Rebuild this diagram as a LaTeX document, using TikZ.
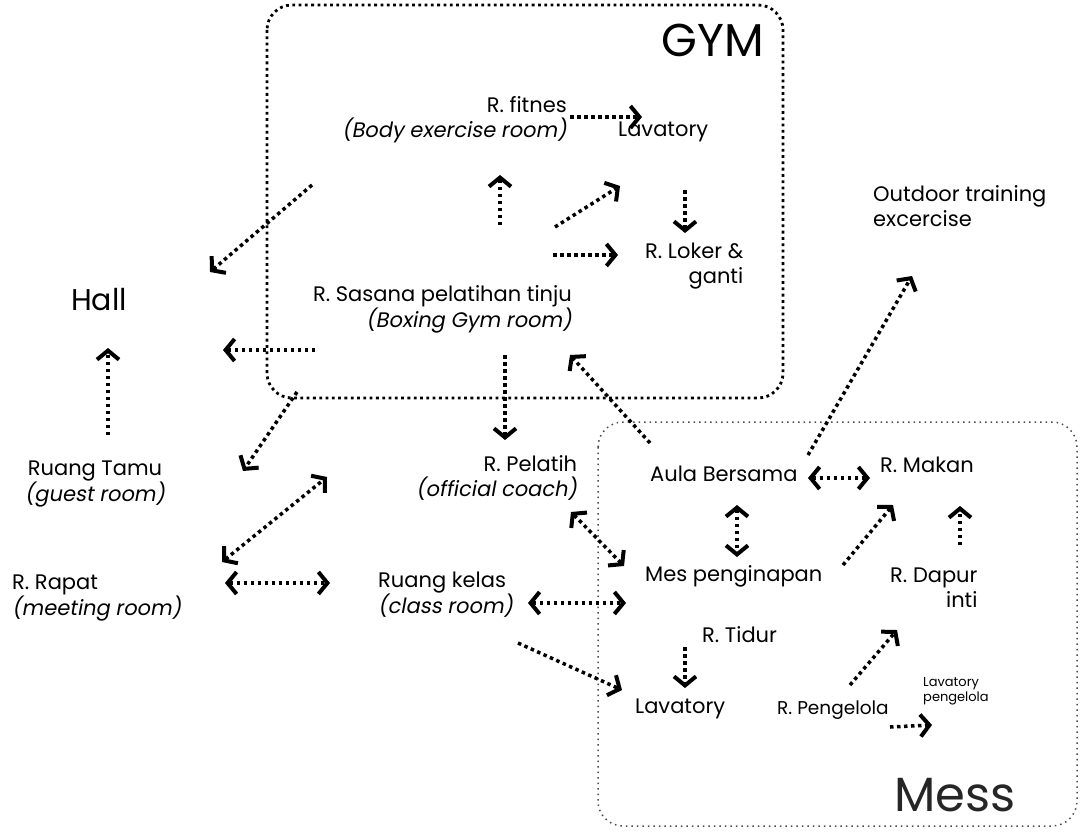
\documentclass[tikz,border=0pt]{standalone}
\usepackage{fontspec}
\setmainfont{Poppins}
\newfontfamily\slfont{Poppins}[FakeSlant=0.18]
\usetikzlibrary{arrows.meta}

\tikzset{
  room/.style={font=\fontsize{21}{25}\selectfont, inner sep=0pt},
  flow/.style={line width=3.5pt, dash pattern=on 3.5pt off 3.5pt,
    -{Straight Barb[length=9pt,width=22pt,line width=4pt]}},
  both/.style={flow, {Straight Barb[length=9pt,width=22pt,line width=4pt]}-{Straight Barb[length=9pt,width=22pt,line width=4pt]}},
  gymzone/.style={line width=2.8pt, dash pattern=on 2.8pt off 3.5pt, rounded corners=25pt},
  messzone/.style={line width=1.5pt, black!70, dash pattern=on 1.5pt off 4pt, rounded corners=25pt}
}

\begin{document}
\begin{tikzpicture}[x=1pt,y=-1pt]
  \useasboundingbox (0,0) rectangle (1083,832);

  % zones
  \draw[gymzone] (267,5) rectangle (783,398);
  \draw[messzone] (598,422) rectangle (1077,826);
  \node[font=\fontsize{46}{46}\selectfont] (gym) at (713,40) {GYM};
  \node[font=\fontsize{48}{48}\selectfont, black!85] (mess) at (955,795) {Mess};

  % rooms
  \node[room, anchor=east, align=right] (fitnes) at (567,120) {R. fitnes\\{\slfont (Body exercise room)}};
  \node[room, anchor=west] (lavgym) at (618,132) {Lavatory};
  \node[room, anchor=west, align=right] (loker) at (645,266) {R. Loker \&\\ganti};
  \node[room, anchor=west, align=left] (outdoor) at (873,206) {Outdoor training\\excercise};
  \node[font=\fontsize{30}{30}\selectfont] (hall) at (99,300) {Hall};
  \node[room, anchor=east, align=right] (sasana) at (572,309) {R. Sasana pelatihan tinju\\{\slfont (Boxing Gym room)}};
  \node[room, align=center] (tamu) at (95,484) {Ruang Tamu\\{\slfont (guest room)}};
  \node[room, anchor=west, align=right] (pelatih) at (416,478) {R. Pelatih\\{\slfont (official coach)}};
  \node[room, anchor=west, align=left] (rapat) at (12,598) {R. Rapat\\{\slfont (meeting room)}};
  \node[room, anchor=west, align=left] (kelas) at (378,595) {Ruang kelas\\{\slfont (class room)}};
  \node[room, anchor=west] (aula) at (650,474) {Aula Bersama};
  \node[room, anchor=west] (makan) at (880,465) {R. Makan};
  \node[room, anchor=west] (mes) at (645,576) {Mes penginapan};
  \node[room, anchor=west, align=right] (dapur) at (890,588) {R. Dapur\\inti};
  \node[room, anchor=west] (tidur) at (702,635) {R. Tidur};
  \node[room, anchor=west] (lavmes) at (635,709) {Lavatory};
  \node[room, anchor=west, font=\fontsize{18.5}{22}\selectfont] (pengelola) at (777,710) {R. Pengelola};
  \node[inner sep=0pt, font=\fontsize{13}{15}\selectfont, align=left, anchor=west] (lavpeng) at (923,691) {Lavatory\\pengelola};

  % arrow ends
  \foreach \n/\x/\y in {gh1/312/185, gh2/210/272, fl1/570/117, fl2/642/117,
      sf1/500/225, sf2/500/175, sl1/555/227, sl2/620/186, sk1/553/255, sk2/618/255,
      lk1/685/190, lk2/685/233, sh1/315/350, sh2/223/350, th1/108/435, th2/108/348,
      gt1/297/392, gt2/243/471, sp1/505/355, sp2/505/440, as1/650/443, as2/570/355,
      ao1/808/455, ao2/912/276, am1/808/478, am2/870/478, ae1/737/505, ae2/737/557,
      pe1/571/512, pe2/624/566, em1/843/565, em2/893/505, dm1/960/545, dm2/960/506,
      rg1/222/562, rg2/327/477, rk1/225/583, rk2/330/583, ke1/528/603, ke2/626/603,
      kl1/518/643, kl2/622/690, tl1/685/647, tl2/685/688, pd1/850/685, pd2/897/630,
      pl1/890/727, pl2/932/725}
    \coordinate (\n) at (\x,\y);

  % one-way links
  \foreach \a/\b in {gh1/gh2, fl1/fl2, sf1/sf2, sl1/sl2, sk1/sk2, lk1/lk2, sh1/sh2,
      th1/th2, gt1/gt2, sp1/sp2, as1/as2, ao1/ao2, em1/em2, dm1/dm2, kl1/kl2,
      tl1/tl2, pd1/pd2, pl1/pl2}
    \draw[flow] (\a) -- (\b);

  % two-way links
  \foreach \a/\b in {am1/am2, ae1/ae2, pe1/pe2, rg1/rg2, rk1/rk2, ke1/ke2}
    \draw[both] (\a) -- (\b);
\end{tikzpicture}
\end{document}
